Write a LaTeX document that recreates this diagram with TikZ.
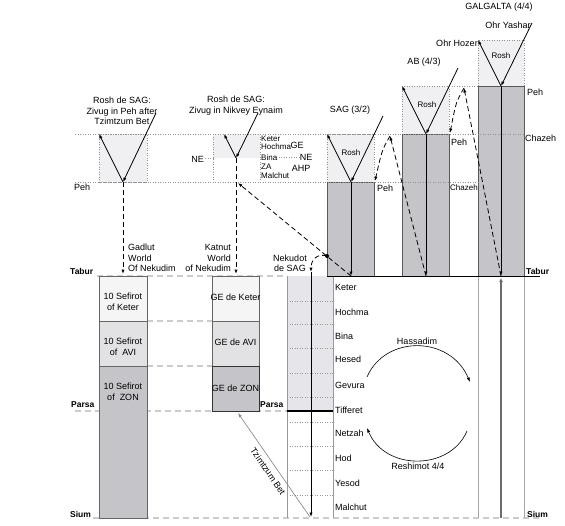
\documentclass[tikz,border=0pt]{standalone}
\usepackage{fontspec}
\setmainfont{Liberation Sans}
\usetikzlibrary{arrows.meta}
\definecolor{roshfill}{HTML}{F0F0F2}
\definecolor{keterfill}{HTML}{F5F5F5}
\definecolor{avifill}{HTML}{E2E2E5}
\definecolor{bodyfill}{HTML}{C5C5C9}
\definecolor{nekfill}{HTML}{E5E5EA}
\begin{document}
\begin{tikzpicture}[x=1pt,y=-1pt,
  txt/.style={font=\fontsize{9}{10.5}\selectfont, inner sep=0pt, align=center},
  stxt/.style={font=\fontsize{8}{9}\selectfont, inner sep=0pt},
  btxt/.style={font=\bfseries\fontsize{8.5}{10}\selectfont, inner sep=0pt},
  guide/.style={draw=gray!85, dotted, line width=0.5pt},
  gdash/.style={draw=gray!40, line width=1.2pt, dash pattern=on 6pt off 4pt},
  roshbox/.style={fill=roshfill, draw=gray!85, dotted, line width=0.5pt},
  bodybox/.style={fill=bodyfill, draw=black!65, line width=0.7pt},
  colbox/.style={draw=black!60, line width=0.7pt},
  ray/.style={draw=black, line width=0.8pt, -{Latex[length=4.5pt,width=3.2pt]}},
  dray/.style={ray, dash pattern=on 5pt off 3pt},
  sefline/.style={draw=gray!80, dotted, line width=0.5pt},
]
\useasboundingbox (0,0) rectangle (565,525);

% ---------- background level lines ----------
\draw[gdash] (97,276) -- (287,276);
\draw[gdash] (75,411) -- (287,411);
\draw[gdash] (93,518) -- (540,518);
\draw[gdash] (147,321) -- (212,321);
\draw[gdash] (147,366) -- (212,366);

% ---------- rosh boxes ----------
\path[roshbox] (99,134) rectangle (147,182);
\fill[roshfill] (213,134) rectangle (260,158);
\draw[guide] (213,134) rectangle (260,182);
\path[roshbox] (327,134) rectangle (374,182);
\path[roshbox] (402,86) rectangle (449,134);
\path[roshbox] (478,40) rectangle (524,86);

% ---------- bodies ----------
\path[bodybox] (327,182) rectangle (374,276);
\path[bodybox] (402,134) rectangle (449,276);
\path[bodybox] (478,86) rectangle (524,276);

% ---------- guides ----------
\draw[guide] (75,134) -- (524,134);
\draw[guide] (75,182) -- (478,182);
\draw[guide] (449,86) -- (478,86);
\draw[guide] (205,158) -- (213,158);
\draw[guide] (276,157) -- (299,157);

% ---------- Nekudot de SAG column ----------
\fill[nekfill] (287,276) rectangle (333,411);
\foreach \yy in {301,324,348,373,397,422,446,470,495}
  \draw[sefline] (287,\yy) -- (333,\yy);
\draw[gray!80, line width=0.6pt] (287,276) -- (287,518);
\draw[gray!80, line width=0.6pt] (333,276) -- (333,518);
\draw[black, line width=1.6pt] (287,411) -- (333,411);

% ---------- Galgalta below Tabur ----------
\draw[gray!70, line width=0.6pt] (478,276) -- (478,518);
\draw[gray!70, line width=0.6pt] (524,276) -- (524,518);
\coordinate (galsium) at (501,518);
\coordinate (galtabup) at (501,278);
\draw[gray!85!black, line width=2pt, -{Latex[length=4pt,width=4pt]}] (galsium) -- (galtabup);

% ---------- Tabur black line ----------
\draw[black, line width=1pt] (327,276) -- (540,276);

% ---------- Gadlut column ----------
\path[colbox, fill=keterfill] (99,276) rectangle (147,321);
\path[colbox, fill=avifill] (99,321) rectangle (147,366);
\path[colbox, fill=bodyfill] (99,366) rectangle (147,518);
% ---------- Katnut column ----------
\path[colbox, fill=keterfill] (212,276) rectangle (259,321);
\path[colbox, fill=avifill] (212,321) rectangle (259,366);
\path[draw=black!80, line width=0.8pt, fill=bodyfill] (212,366) rectangle (259,411);

% ---------- coordinates ----------
\coordinate (r1tip) at (123,182); \coordinate (r1in) at (156,113);
\coordinate (r1out) at (99,134);  \coordinate (r1bot) at (123,274);
\coordinate (r2tip) at (236,158); \coordinate (r2in) at (258,113);
\coordinate (r2out) at (224,134); \coordinate (r2bot) at (236,274);
\coordinate (r2peh) at (238,183);
\coordinate (sagtip) at (351,182); \coordinate (sagin) at (383,116);
\coordinate (sagout) at (327,134); \coordinate (sagtab) at (351,276);
\coordinate (abtip) at (426,134); \coordinate (abin) at (458,68);
\coordinate (about) at (402,86);  \coordinate (abtab) at (426,276);
\coordinate (galtip) at (501,86); \coordinate (galin) at (532,23);
\coordinate (galout) at (478,40); \coordinate (galtab) at (501,276);
\coordinate (pk1) at (390,136); \coordinate (sagpeh) at (375,181);
\coordinate (pk2) at (464,88);  \coordinate (abpeh) at (450,133);
\coordinate (nekdot) at (327,256);
\coordinate (nektop) at (311,272); \coordinate (neksium) at (311,517);
\coordinate (tzlow) at (310,517); \coordinate (tzhigh) at (238,413);
\coordinate (h1) at (367,377); \coordinate (h2) at (470,382);
\coordinate (s1) at (467,431); \coordinate (s2) at (367,428);

% ---------- rays ----------
\draw[ray] (r1in) -- (r1tip);
\draw[ray] (r1tip) -- (r1out);
\draw[dray] (r1tip) -- (r1bot);
\draw[ray] (r2in) -- (r2tip);
\draw[ray] (r2tip) -- (r2out);
\draw[dray] (r2tip) -- (r2bot);

\draw[ray] (sagin) -- (sagtip);
\draw[ray] (sagtip) -- (sagout);
\draw[ray] (sagtip) -- (sagtab);
\draw[ray] (abin) -- (abtip);
\draw[ray] (abtip) -- (about);
\draw[ray] (abtip) -- (abtab);
\draw[ray] (galin) -- (galtip);
\draw[ray] (galtip) -- (galout);
\draw[ray] (galtip) -- (galtab);

\draw[dray] (sagtab) -- (r2peh);
\fill (nekdot) circle (2pt);
\draw[dray] (nekdot) .. controls (317,253) and (311,260) .. (nektop);
\draw[ray] (nektop) -- (neksium);

\draw[dray] (abtab) -- (pk1);
\draw[dray] (pk1) .. controls (382,150) .. (sagpeh);
\draw[dray] (galtab) -- (pk2);
\draw[dray] (pk2) .. controls (456,102) .. (abpeh);

\draw[ray, line width=0.6pt] (h1) .. controls (385,335) and (450,335) .. (h2);
\draw[ray, line width=0.6pt] (s1) .. controls (450,471) and (385,471) .. (s2);

\draw[gray, line width=0.6pt, -{Latex[length=4.5pt,width=3pt]}] (tzlow) -- (tzhigh);
\node[txt, rotate=-55.6] (tzb) at (268,471) {Tzimtzum Bet};

% ---------- labels ----------
\node[txt] (l1) at (122,111) {Rosh de SAG:\\Zivug in Peh after\\Tzimtzum Bet};
\node[txt] (l2) at (236,105.5) {Rosh de SAG:\\Zivug in Nikvey Eynaim};
\node[txt, anchor=east] (ne1) at (204,159) {NE};
\node[stxt, anchor=west] (k1) at (261,139) {Keter};
\node[stxt, anchor=west] (k2) at (261,147) {Hochma};
\node[stxt, anchor=west] (k3) at (261,157.5) {Bina};
\node[stxt, anchor=west] (k4) at (261,166.5) {ZA};
\node[stxt, anchor=west] (k5) at (261,175.5) {Malchut};
\node[txt] (ge) at (297,145) {GE};
\node[txt] (ne2) at (306,157) {NE};
\node[txt] (ahp) at (301,168) {AHP};
\node[txt, anchor=west] (peh0) at (74,187) {Peh};

\node[txt] (sagl) at (350,110) {SAG (3/2)};
\node[txt] (abl) at (424,62) {AB (4/3)};
\node[txt] (gall) at (499,7.5) {GALGALTA (4/4)};
\node[txt] (oy) at (508,25) {Ohr Yashar};
\node[txt] (oh) at (457,43) {Ohr Hozer};
\node[stxt] (rs1) at (351,153) {Rosh};
\node[stxt] (rs2) at (427,105) {Rosh};
\node[stxt] (rs3) at (501,56) {Rosh};
\node[txt, anchor=west] (p1) at (377,188) {Peh};
\node[txt, anchor=west] (p2) at (451,142) {Peh};
\node[txt, anchor=west] (p3) at (527,92) {Peh};
\node[stxt, anchor=west] (c2) at (450,188) {Chazeh};
\node[txt, anchor=west] (c3) at (525,138) {Chazeh};

\node[btxt, anchor=west] (tab1) at (70,271) {Tabur};
\node[btxt, anchor=west] (tab2) at (526,271) {Tabur};
\node[btxt, anchor=west] (par1) at (71,405) {Parsa};
\node[btxt, anchor=west] (par2) at (260,405) {Parsa};
\node[btxt, anchor=west] (sium1) at (70,514) {Sium};
\node[btxt, anchor=west] (sium2) at (527,514) {Sium};

\node[txt, align=left, anchor=west] (gad) at (128,258) {Gadlut\\World\\Of Nekudim};
\node[txt, align=right, anchor=east] (kat) at (231,258) {Katnut\\World\\of Nekudim};
\node[txt] (nek) at (290,263.5) {Nekudot\\de SAG};

\node[txt] (b1) at (123,302) {10 Sefirot\\of Keter};
\node[txt] (b2) at (123,347) {10 Sefirot\\of\ \ AVI};
\node[txt] (b3) at (123,392) {10 Sefirot\\of\ \ ZON};
\node[txt] (g1) at (235.5,297) {GE de Keter};
\node[txt] (g2) at (235.5,342) {GE de AVI};
\node[txt] (g3) at (235.5,388) {GE de ZON};

\foreach \nm/\yy in {Keter/287,Hochma/312,Bina/336,Hesed/359,Gevura/385,Tifferet/410,Netzah/433,Hod/458,Yesod/483,Malchut/507}
  \node[txt, anchor=west] at (335,\yy) {\nm};

\node[txt] (hass) at (417,341) {Hassadim};
\node[txt] (resh) at (418,466) {Reshimot 4/4};
\end{tikzpicture}
\end{document}
